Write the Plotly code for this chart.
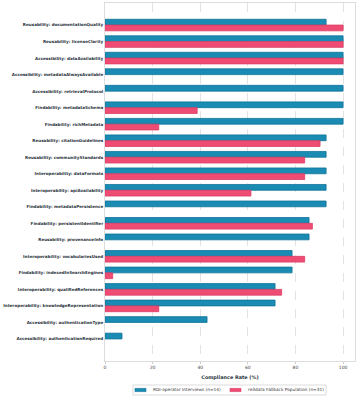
import plotly.graph_objects as go

categories = [
    "Reusability: documentationQuality",
    "Reusability: licenseClarity",
    "Accessibility: dataAvailability",
    "Accessibility: metadataAlwaysAvailable",
    "Accessibility: retrievalProtocol",
    "Findability: metadataSchema",
    "Findability: richMetadata",
    "Reusability: citationGuidelines",
    "Reusability: communityStandards",
    "Interoperability: dataFormats",
    "Interoperability: apiAvailability",
    "Findability: metadataPersistence",
    "Findability: persistentIdentifier",
    "Reusability: provenanceInfo",
    "Interoperability: vocabulariesUsed",
    "Findability: indexedInSearchEngines",
    "Interoperability: qualifiedReferences",
    "Interoperability: knowledgeRepresentation",
    "Accessibility: authenticationType",
    "Accessibility: authenticationRequired",
]
interviews = [92.86, 100, 100, 100, 100, 100, 100, 92.86, 92.86, 92.86, 92.86, 92.86,
              85.71, 85.71, 78.57, 78.57, 71.43, 71.43, 42.86, 7.14]
fallback = [100, 100, 100, 0, 0, 38.71, 22.58, 90.32, 83.87, 83.87, 61.29, 0,
            87.10, 0, 83.87, 3.23, 74.19, 22.58, 0, 0]
series_names = ["RDI-operator Interviews (n=14)", "re3data Fallback Population (n=31)"]
x_ticks = [0, 20, 40, 60, 80, 100]

pos = list(range(len(categories)))
blue, blue_edge = "#1a8bb3", "#0f7399"
pink, pink_edge = "#ef4c73", "#dc3d64"
h = 0.35


def edge_widths(vals):
    return [0.8 if v > 0 else 0 for v in vals]


fig = go.Figure()
fig.add_trace(go.Bar(
    y=pos, x=interviews, orientation="h", width=h, offset=-h,
    name=series_names[0],
    marker=dict(color=blue, line=dict(color=blue_edge, width=edge_widths(interviews))),
))
fig.add_trace(go.Bar(
    y=pos, x=fallback, orientation="h", width=h, offset=0,
    name=series_names[1],
    marker=dict(color=pink, line=dict(color=pink_edge, width=edge_widths(fallback))),
))

# Custom legend below the plot (paper coordinates)
fig.add_shape(type="rect", xref="paper", yref="paper", x0=0.112, x1=0.884, y0=-0.095, y1=-0.067,
              line=dict(color="#cccccc", width=0.7), fillcolor="white", layer="above")
legend_items = [(0.12, 0.164, 0.1828, blue, blue_edge), (0.50, 0.544, 0.5628, pink, pink_edge)]
for (sx0, sx1, tx, col, ecol), name in zip(legend_items, series_names):
    fig.add_shape(type="rect", xref="paper", yref="paper", x0=sx0, x1=sx1, y0=-0.0855, y1=-0.0765,
                  line=dict(color=ecol, width=0.6), fillcolor=col, layer="above")
    fig.add_annotation(xref="paper", yref="paper", x=tx, y=-0.081, xanchor="left", yanchor="middle",
                       text=name, showarrow=False, font=dict(size=4.3, color="#333333"))

fig.update_layout(
    width=357, height=400,
    margin=dict(l=105, r=2, t=3, b=39),
    plot_bgcolor="white", paper_bgcolor="white",
    font=dict(family="DejaVu Sans", color="#333333", size=5),
    barmode="overlay",
    showlegend=False,
    xaxis=dict(
        range=[0, 105], tickvals=x_ticks, automargin=False,
        showgrid=True, gridcolor="#e3e3e3", griddash="dash", gridwidth=0.6,
        showline=True, linecolor="#dddddd", linewidth=1, mirror=True,
        zeroline=False, ticks="outside", ticklen=2, tickcolor="#cccccc",
        tickfont=dict(size=4.5, color="#444444"),
        title=dict(text="<b>Compliance Rate (%)</b>", font=dict(size=4.9, color="#2a3340"), standoff=6),
    ),
    yaxis=dict(
        range=[20.335, -1.335], tickvals=pos, ticktext=["<b>%s</b>" % c for c in categories],
        automargin=False,
        showgrid=False, zeroline=False,
        showline=True, linecolor="#dddddd", linewidth=1, mirror=True,
        ticks="", tickfont=dict(size=4.1, color="#2a3340"),
    ),
)

fig.write_html("out.html")
